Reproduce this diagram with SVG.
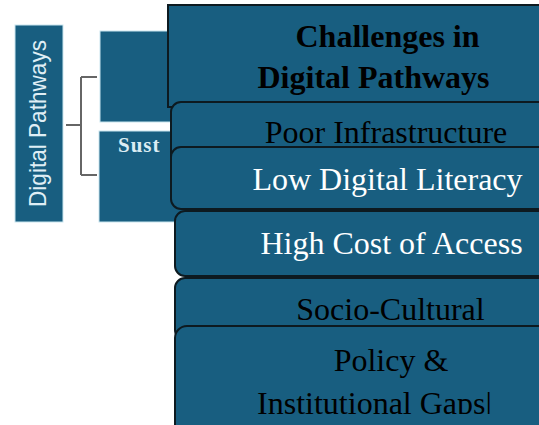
<svg xmlns="http://www.w3.org/2000/svg" width="539" height="425" viewBox="0 0 539 425">
<style>
.side{fill:#185E80;stroke:#c9e6ef;stroke-width:1}
.card{fill:#185E80;stroke:#0d1a20;stroke-width:2}
.t{font-family:"Liberation Serif","Times New Roman",serif;font-size:32px;text-anchor:middle}
.dark{fill:#000}
.light{fill:#fff}
.conn{fill:none;stroke:#666;stroke-width:2}
</style>
<defs>
<clipPath id="cut"><rect x="175" y="326" width="380" height="88"/></clipPath>
</defs>
<rect width="539" height="425" fill="#fff"/>
<g id="digital-pathways">
<rect class="side" x="15" y="25" width="48" height="197"/>
<text transform="translate(46,123.5) rotate(-90)" font-family="Liberation Sans,Arial,sans-serif" font-size="24" fill="#dfeef5" text-anchor="middle" textLength="167" lengthAdjust="spacingAndGlyphs">Digital Pathways</text>
</g>
<g id="connectors">
<path class="conn" d="M66,125 H81 M81,77 V175 M81,77 H97 M81,175 H97"/>
</g>
<g id="branch-top">
<rect class="side" x="100" y="31" width="100" height="91"/>
</g>
<g id="branch-bottom">
<rect class="side" x="99" y="131" width="100" height="91"/>
<text x="118" y="152" font-family="Liberation Serif,serif" font-weight="bold" font-size="21" letter-spacing="1" fill="#dcedf4">Sust</text>
</g>
<g id="challenges">
<rect class="card" x="168" y="5" width="380" height="102"/>
<text class="t dark" x="387.5" y="47" font-weight="bold">Challenges in</text>
<text class="t dark" x="373.5" y="88" font-weight="bold">Digital Pathways</text>
</g>
<g id="poor-infrastructure">
<rect class="card" x="171" y="102" width="380" height="66" rx="10"/>
<text class="t dark" x="386" y="143">Poor Infrastructure</text>
</g>
<g id="low-digital-literacy">
<rect class="card" x="171" y="147" width="380" height="62" rx="10"/>
<text class="t light" x="387.5" y="190">Low Digital Literacy</text>
</g>
<g id="high-cost">
<rect class="card" x="175" y="211" width="380" height="65" rx="10"/>
<text class="t light" x="391.5" y="254">High Cost of Access</text>
</g>
<g id="socio-cultural">
<rect class="card" x="175" y="278" width="380" height="62" rx="10"/>
<text class="t dark" x="390.5" y="320">Socio-Cultural</text>
</g>
<g id="policy">
<rect class="card" x="175" y="326" width="380" height="112" rx="12"/>
<text class="t dark" x="391" y="371">Policy &amp;</text>
<text class="t dark" x="374.5" y="414" clip-path="url(#cut)">Institutional Gaps|</text>
</g>
</svg>
